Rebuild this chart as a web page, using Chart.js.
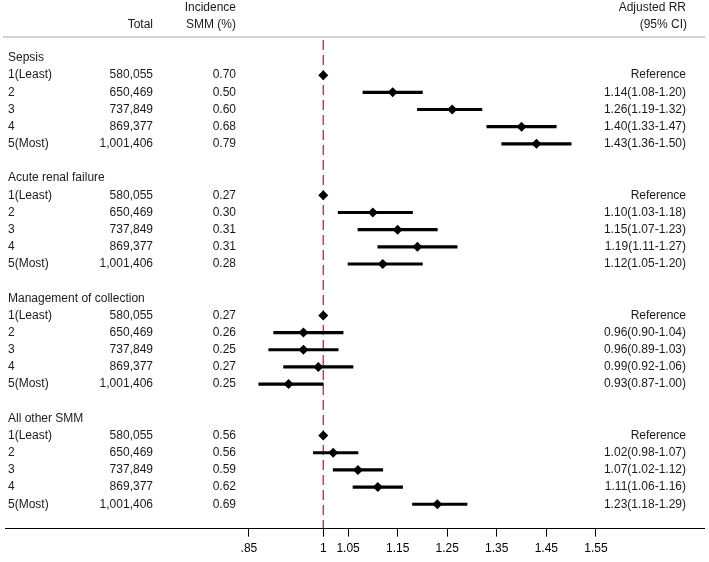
<!DOCTYPE html>
<html>
<head>
<meta charset="utf-8">
<script src="https://cdn.jsdelivr.net/npm/chart.js@4.4.1/dist/chart.umd.min.js"></script>
<style>
  html, body { margin: 0; padding: 0; background: #fff; }
  #wrap { width: 709px; height: 562px; position: relative; }
</style>
</head>
<body>
<div id="wrap"><canvas id="forest"></canvas></div>
<script>
// groups and quintiles
const groups = ["Sepsis", "Acute renal failure", "Management of collection", "All other SMM"];
const quintiles = ["1(Least)", "2", "3", "4", "5(Most)"];
const totals = ["580,055", "650,469", "737,849", "869,377", "1,001,406"];

// incidence SMM (%) per group
const incidence = [
    ["0.70", "0.50", "0.60", "0.68", "0.79"],
    ["0.27", "0.30", "0.31", "0.31", "0.28"],
    ["0.27", "0.26", "0.25", "0.27", "0.25"],
    ["0.56", "0.56", "0.59", "0.62", "0.69"]
];

// adjusted RR and 95% CI, quintile 1 is the reference
const rr = [
    [1.00, 1.14, 1.26, 1.40, 1.43],
    [1.00, 1.10, 1.15, 1.19, 1.12],
    [1.00, 0.96, 0.96, 0.99, 0.93],
    [1.00, 1.02, 1.07, 1.11, 1.23]
];
const ciLow = [
    [1.00, 1.08, 1.19, 1.33, 1.36],
    [1.00, 1.03, 1.07, 1.11, 1.05],
    [1.00, 0.90, 0.89, 0.92, 0.87],
    [1.00, 0.98, 1.02, 1.06, 1.18]
];
const ciHigh = [
    [1.00, 1.20, 1.32, 1.47, 1.50],
    [1.00, 1.18, 1.23, 1.27, 1.20],
    [1.00, 1.04, 1.03, 1.06, 1.00],
    [1.00, 1.07, 1.12, 1.16, 1.29]
];

const xTicks = [0.85, 1, 1.05, 1.15, 1.25, 1.35, 1.45, 1.55];
const xTickLabels = [".85", "1", "1.05", "1.15", "1.25", "1.35", "1.45", "1.55"];

const ROWS_PER_GROUP = 7;
const yMin = -1.05;
const yMax = 27.42;

function rowOf(g, q) {
    return g * ROWS_PER_GROUP + 1 + q;
}

const points = [];
const bars = [];
groups.forEach((g, gi) => {
    quintiles.forEach((q, qi) => {
        const row = rowOf(gi, qi);
        points.push({ x: rr[gi][qi], y: row });
        if (qi > 0) {
            bars.push({ x: [ciLow[gi][qi], ciHigh[gi][qi]], y: row });
        }
    });
});

const FONT = "Liberation Sans, Arial, sans-serif";

const textColumns = {
    id: "textColumns",
    afterDraw(chart) {
        const ctx = chart.ctx;
        const y = chart.scales.y;
        ctx.save();
        ctx.fillStyle = "#1a1a1a";
        ctx.font = "12px " + FONT;
        ctx.textBaseline = "middle";

        // header
        ctx.textAlign = "right";
        ctx.fillText("Incidence", 236, 8);
        ctx.fillText("SMM (%)", 236, 25);
        ctx.fillText("Total", 153, 25);
        ctx.fillText("Adjusted RR", 686, 8);
        ctx.fillText("(95% CI)", 687, 25);

        ctx.strokeStyle = "#c4c4c4";
        ctx.lineWidth = 1.5;
        ctx.beginPath();
        ctx.moveTo(3, 37);
        ctx.lineTo(705, 37);
        ctx.stroke();

        groups.forEach((g, gi) => {
            ctx.textAlign = "left";
            ctx.fillText(g, 8, y.getPixelForValue(gi * ROWS_PER_GROUP));
            quintiles.forEach((q, qi) => {
                const py = y.getPixelForValue(rowOf(gi, qi));
                ctx.textAlign = "left";
                ctx.fillText(q, 8, py);
                ctx.textAlign = "right";
                ctx.fillText(totals[qi], 153, py);
                ctx.fillText(incidence[gi][qi], 236, py);
                if (qi === 0) {
                    ctx.fillText("Reference", 686, py);
                } else {
                    const txt = rr[gi][qi].toFixed(2) + "(" + ciLow[gi][qi].toFixed(2) + "-" + ciHigh[gi][qi].toFixed(2) + ")";
                    ctx.fillText(txt, 686, py, 86);
                }
            });
        });
        ctx.restore();
    }
};

new Chart(document.getElementById("forest"), {
    type: "scatter",
    data: {
        datasets: [
            {
                type: "line",
                data: [{ x: 1, y: yMin }, { x: 1, y: yMax }],
                borderColor: "#a8323e",
                borderWidth: 1.3,
                borderDash: [10, 5],
                pointRadius: 0,
                order: 3
            },
            {
                type: "bar",
                indexAxis: "y",
                data: bars,
                backgroundColor: "#000",
                barThickness: 2.5,
                order: 2
            },
            {
                type: "scatter",
                data: points,
                pointStyle: "rectRot",
                pointRadius: 5,
                backgroundColor: "#000",
                borderColor: "#000",
                borderWidth: 0,
                order: 1
            }
        ]
    },
    options: {
        responsive: true,
        maintainAspectRatio: false,
        animation: false,
        layout: { padding: { top: 40, left: 2, right: 2, bottom: 1 } },
        plugins: {
            legend: { display: false },
            tooltip: { enabled: false }
        },
        scales: {
            x: {
                type: "linear",
                min: 0.358,
                max: 1.768,
                offset: false,
                afterBuildTicks: axis => {
                    axis.ticks = xTicks.map(v => ({ value: v }));
                },
                ticks: {
                    color: "#000",
                    font: { family: FONT, size: 12 },
                    padding: 5,
                    maxRotation: 0,
                    autoSkip: false,
                    callback: (v, i) => xTickLabels[i]
                },
                grid: { drawOnChartArea: false, drawTicks: true, tickLength: 8, color: "#000", offset: false },
                border: { display: true, color: "#000", width: 1 }
            },
            y: {
                type: "linear",
                display: false,
                reverse: true,
                offset: false,
                grid: { offset: false },
                min: yMin,
                max: yMax
            }
        }
    },
    plugins: [textColumns]
});
</script>
</body>
</html>
